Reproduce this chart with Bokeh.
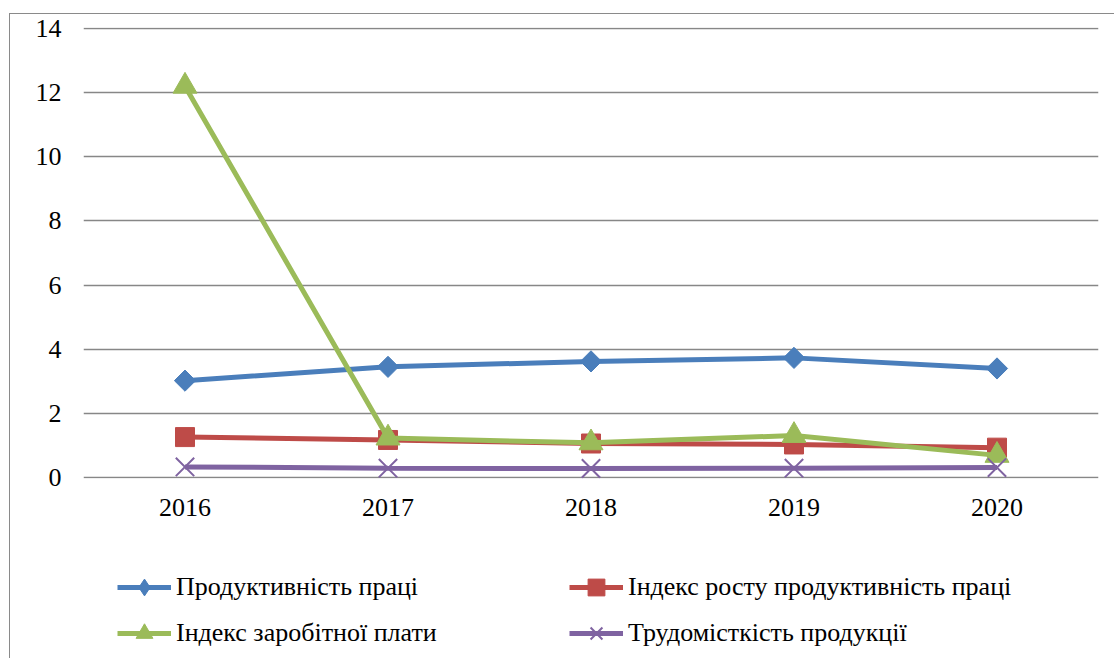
import math
from bokeh.plotting import figure
from bokeh.layouts import column
from bokeh.models import FactorRange, Range1d, FixedTicker, Legend, LegendItem
from bokeh.embed import file_html
from bokeh.resources import INLINE

years = ["2016", "2017", "2018", "2019", "2020"]
productivity = [3.02, 3.45, 3.62, 3.73, 3.40]
productivity_index = [1.26, 1.17, 1.06, 1.03, 0.93]
wage_index = [12.2, 1.23, 1.08, 1.31, 0.69]
labour_intensity = [0.33, 0.29, 0.28, 0.29, 0.31]
y_ticks = [0, 2, 4, 6, 8, 10, 12, 14]

names = ["Продуктивність праці", "Індекс росту продуктивність праці",
         "Індекс заробітної плати", "Трудомісткість продукції"]
colors = ["#4A7EBB", "#BE4B48", "#9BBB59", "#7F63A1"]

FONT = "Liberation Serif"
FS = "26px"
BORDER = "1px solid #8A8A8A"

p = figure(width=1105, height=527, output_backend="svg", toolbar_location=None,
           x_range=FactorRange(factors=years), y_range=Range1d(-0.03125, 14.03125),
           min_border_left=73, min_border_right=18, min_border_top=13,
           min_border_bottom=64)
p.frame_width = 1014
p.frame_height = 450
p.margin = (13, 0, 0, 9)
p.styles = {"border-left": BORDER, "border-top": BORDER}
p.outline_line_color = None
p.background_fill_color = "white"
p.border_fill_color = "white"

p.xgrid.grid_line_color = None
p.ygrid.grid_line_color = "#878787"
p.ygrid.grid_line_width = 1.5
p.yaxis.ticker = FixedTicker(ticks=y_ticks)

for ax in (p.xaxis[0], p.yaxis[0]):
    ax.axis_line_color = None
    ax.major_tick_line_color = None
    ax.minor_tick_line_color = None
    ax.major_tick_out = 0
    ax.major_tick_in = 0
    ax.major_label_text_font = FONT
    ax.major_label_text_font_size = FS
    ax.major_label_text_color = "black"
p.yaxis.major_label_standoff = 22
p.xaxis.major_label_standoff = 20

# legend figure below the chart (its series proxies lie outside its view)
q = figure(width=1105, height=118, output_backend="svg", toolbar_location=None,
           x_range=FactorRange(factors=years), y_range=Range1d(100, 101),
           min_border_left=0, min_border_right=0, min_border_top=0,
           min_border_bottom=0)
q.margin = (0, 0, 0, 9)
q.styles = {"border-left": BORDER}
q.axis.visible = False
q.grid.visible = False
q.outline_line_color = None
q.background_fill_color = "white"
q.border_fill_color = "white"

series = [productivity, productivity_index, wage_index, labour_intensity]
items = []
for i, (vals, name, c) in enumerate(zip(series, names, colors)):
    p.line(years, vals, line_color=c, line_width=5)
    ql = q.line(years, vals, line_color=c, line_width=5)
    if i == 0:
        kw = dict(marker="square", angle=math.pi / 4, size=15, fill_color=c, line_color=c)
        qkw = dict(marker="diamond", fill_color=c, line_color=c)
    elif i == 1:
        kw = dict(marker="square", size=19, fill_color=c, line_color=c)
        qkw = dict(kw)
    elif i == 2:
        kw = dict(marker="triangle", size=24, fill_color=c, line_color=c)
        qkw = dict(kw)
    else:
        kw = dict(marker="x", size=26, line_color=c, line_width=2)
        qkw = dict(kw)
    p.scatter(years, vals, **kw)
    qm = q.scatter(years, vals, **qkw)
    items.append(LegendItem(label=name, renderers=[ql, qm]))

# column-major order: first column = items 0 and 2
legend = Legend(items=[items[0], items[2], items[1], items[3]], location=(34, 5),
                orientation="vertical", ncols=2,
                label_text_font=FONT, label_text_font_size=FS,
                label_text_color="black", glyph_width=54, glyph_height=42,
                label_standoff=5, label_width=389, spacing=4, padding=0, margin=0,
                border_line_color=None, background_fill_alpha=0)
q.add_layout(legend, "center")

layout = column(p, q, spacing=0)
open("out.html", "w").write(file_html(layout, INLINE))
